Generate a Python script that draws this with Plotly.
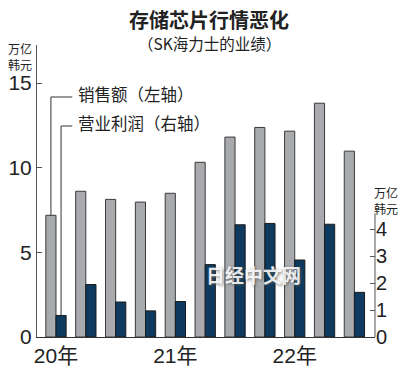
import plotly.graph_objects as go

quarters = ["2020Q1", "2020Q2", "2020Q3", "2020Q4", "2021Q1", "2021Q2",
            "2021Q3", "2021Q4", "2022Q1", "2022Q2", "2022Q3"]
sales = [7.19, 8.61, 8.13, 7.97, 8.49, 10.32, 11.81, 12.38, 12.16, 13.81, 10.98]
profit = [0.80, 1.95, 1.30, 0.97, 1.32, 2.69, 4.17, 4.22, 2.86, 4.19, 1.66]
year_tick_pos = [0, 4, 8]
year_tick_text = ["20年", "21年", "22年"]
left_ticks = [0, 5, 10, 15]
right_ticks = [0, 1, 2, 3, 4]

x = list(range(len(quarters)))
GREY = "#a9aaae"
NAVY = "#0d3a5e"
NUM_FONT = "Liberation Sans Narrow, Liberation Sans, Noto Sans CJK SC, sans-serif"
CJK = "Noto Sans CJK SC, sans-serif"
BW = 0.34

fig = go.Figure()
fig.add_trace(go.Bar(x=x, y=sales, width=BW, offset=-BW, marker=dict(color=GREY, line=dict(color="#3a3a3a", width=1)),
                     yaxis="y", showlegend=False, hoverinfo="skip"))
fig.add_trace(go.Bar(x=x, y=profit, width=BW, offset=0, marker=dict(color=NAVY, line=dict(color="#1a1a1a", width=1)),
                     yaxis="y2", showlegend=False, hoverinfo="skip"))

L_MAX = 17.25
R_MAX = 10.85

fig.update_layout(
    width=400, height=376,
    margin=dict(l=37, r=25, t=45, b=39, autoexpand=False),
    plot_bgcolor="white", paper_bgcolor="white",
    barmode="overlay",
    xaxis=dict(range=[-0.636, 10.69], tickvals=year_tick_pos, ticktext=year_tick_text,
               showline=True, linecolor="#333", linewidth=1.3, ticks="", showgrid=False, zeroline=False,
               automargin=False, fixedrange=True,
               tickfont=dict(family=NUM_FONT, size=21, color="#222")),
    yaxis=dict(range=[0, L_MAX], tickvals=left_ticks, showline=True, linecolor="#555", linewidth=1,
               ticks="inside", ticklen=5, tickcolor="#555", showgrid=False, zeroline=False,
               automargin=False, fixedrange=True,
               tickfont=dict(family=NUM_FONT, size=21, color="#222")),
    yaxis2=dict(range=[0, R_MAX], overlaying="y", side="right", tickvals=right_ticks, showline=False,
                ticks="inside", ticklen=5, tickcolor="#555", showgrid=False, zeroline=False,
                automargin=False, fixedrange=True,
                tickfont=dict(family=NUM_FONT, size=20, color="#222")),
)

# right axis line (only up to ~4.6)
fig.add_shape(type="line", xref="paper", yref="y2", x0=1, x1=1, y0=0, y1=4.6,
              line=dict(color="#555", width=1))

# leader lines
g_top = (337 - 97) / (292 / L_MAX)
n_top = (337 - 126) / (292 / R_MAX)
x_text = (72 - 55.7) / 29.87
fig.add_shape(type="line", xref="x", yref="y", x0=-BW / 2, x1=-BW / 2, y0=sales[0], y1=g_top,
              line=dict(color="#333", width=1))
fig.add_shape(type="line", xref="x", yref="y", x0=-BW / 2, x1=x_text, y0=g_top, y1=g_top,
              line=dict(color="#333", width=1))
fig.add_shape(type="line", xref="x", yref="y2", x0=BW / 2, x1=BW / 2, y0=profit[0], y1=n_top,
              line=dict(color="#333", width=1))
fig.add_shape(type="line", xref="x", yref="y2", x0=BW / 2, x1=x_text, y0=n_top, y1=n_top,
              line=dict(color="#333", width=1))

def py(pix):
    return (337 - pix) / 292

def px(pix):
    return (pix - 37) / 338

ann = [
    dict(text="<b>存储芯片行情恶化</b>", x=px(209), y=py(19), size=20),
    dict(text="（SK海力士的业绩）", x=px(209), y=py(43), size=15.5),
    dict(text="万亿<br>韩元", x=px(20), y=py(56), size=12),
    dict(text="万亿<br>韩元", x=px(386), y=py(200.5), size=12),
    dict(text="销售额（左轴）", x=px(76), y=py(94), size=16.5, xanchor="left"),
    dict(text="营业利润（右轴）", x=px(76), y=py(123), size=16.5, xanchor="left"),
]
for a in ann:
    fig.add_annotation(text=a["text"], x=a["x"], y=a["y"], xref="paper", yref="paper",
                       xanchor=a.get("xanchor", "center"), yanchor="middle", showarrow=False,
                       font=dict(family=CJK, size=a["size"], color="#222"))

# watermark
fig.add_annotation(text="<b>日经中文网</b>", x=px(253), y=py(290), xref="paper", yref="paper",
                   showarrow=False,
                   font=dict(family=CJK, size=19, color="rgba(255,255,255,0.9)",
                             shadow="1px 1px 3px rgba(90,90,90,0.9)"))

fig.write_html("out.html", config={"displayModeBar": False},
               post_script="document.body.style.margin='0';")
